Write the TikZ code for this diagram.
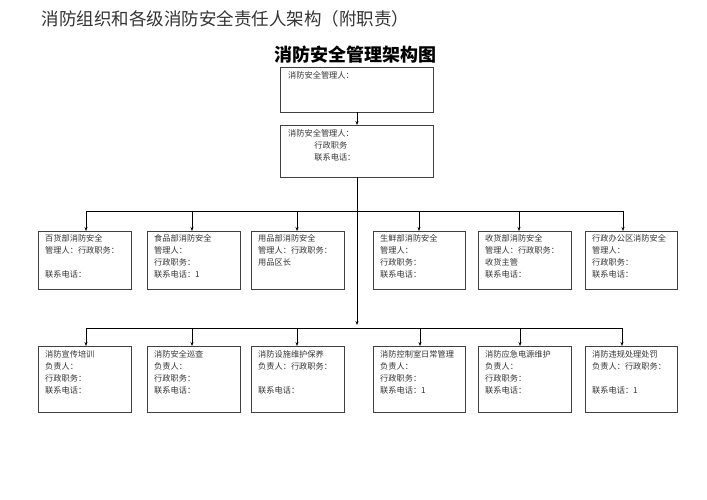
\documentclass[tikz,border=0pt]{standalone}
\usepackage{fontspec}
\usetikzlibrary{arrows.meta}
\setmainfont{Noto Sans CJK SC}
\newfontfamily\cjk{Noto Sans CJK SC}
\begin{document}
\begin{tikzpicture}[x=1pt,y=-1pt,
  bx/.style={draw=black!75,line width=0.8pt},
  tx/.style={anchor=north west,align=left,font=\fontsize{8.2}{12}\selectfont,text=black!80,inner sep=0pt},
  ar/.style={-{Stealth[length=4pt,width=3pt]},line width=0.6pt},
  ln/.style={line width=0.6pt}]
\useasboundingbox (0,0) rectangle (707,500);
\node[anchor=west,font=\fontsize{17.5}{17.5}\selectfont,text=black!80] (title) at (38,19) {消防组织和各级消防安全责任人架构（附职责）};
\node[font=\bfseries\fontsize{18}{18}\selectfont] (head) at (355,55) {消防安全管理架构图};
\draw[bx] (280,67) rectangle (433,112);
\coordinate (t1b) at (357,112);
\node[tx] at (288,71) {消防安全管理人：};
\draw[bx] (280,125) rectangle (433,177);
\coordinate (t2t) at (357,125);
\coordinate (t2b) at (357,177);
\node[tx] at (288,129) {消防安全管理人：\\\hspace{3.2em}行政职务\\\hspace{3.2em}联系电话：};
\draw[ar] (t1b) -- (t2t);
\coordinate (bus1) at (357,211);
\coordinate (bus2) at (357,328);
\draw[ln] (t2b) -- (bus1);
\draw[ar] (bus1) -- (357,325);
\draw[ln] (86,211) -- (623,211);
\draw[ln] (86,328) -- (622,328);
\foreach \l/\r/\c/\t in {38/131/86/{百货部消防安全\\管理人：行政职务：\\\\联系电话：},
  147/240/192/{食品部消防安全\\管理人：\\行政职务：\\联系电话：1},
  251/344/297/{用品部消防安全\\管理人：行政职务：\\用品区长},
  373/465/419/{生鲜部消防安全\\管理人：\\行政职务：\\联系电话：},
  478/571/519/{收货部消防安全\\管理人：行政职务：\\收货主管\\联系电话：},
  585/677/623/{行政办公区消防安全\\管理人：\\行政职务：\\联系电话：}}{
  \draw[bx] (\l,231) rectangle (\r,289);
  \draw[ar] (\c,211) -- (\c,231);
  \node[tx] at (\l+7,234) {\t};
}
\foreach \l/\r/\c/\t in {38/131/86/{消防宣传培训\\负责人：\\行政职务：\\联系电话：},
  147/240/192/{消防安全巡查\\负责人：\\行政职务：\\联系电话：},
  251/344/297/{消防设施维护保养\\负责人：行政职务：\\\\联系电话：},
  373/465/420/{消防控制室日常管理\\负责人：\\行政职务：\\联系电话：1},
  478/571/520/{消防应急电源维护\\负责人：\\行政职务：\\联系电话：},
  585/677/622/{消防违规处理处罚\\负责人：行政职务：\\\\联系电话：1}}{
  \draw[bx] (\l,346) rectangle (\r,412);
  \draw[ar] (\c,328) -- (\c,346);
  \node[tx] at (\l+7,350) {\t};
}
\end{tikzpicture}
\end{document}
